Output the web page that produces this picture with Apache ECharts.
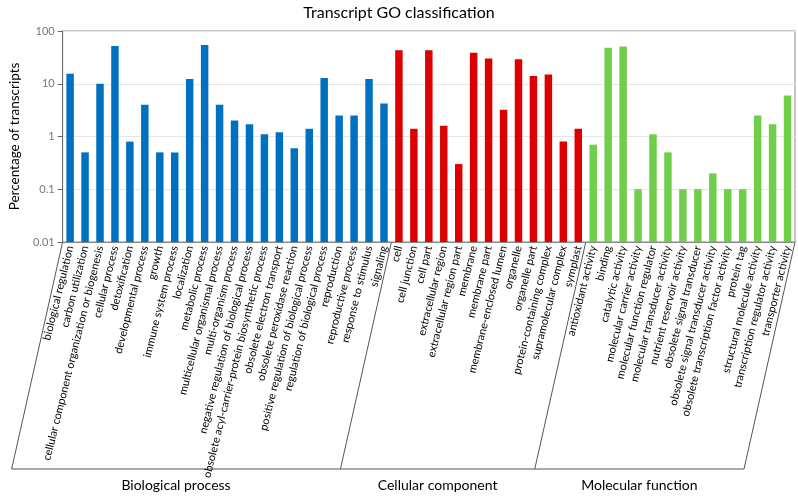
<!DOCTYPE html>
<html>
<head>
<meta charset="utf-8">
<script src="https://cdn.jsdelivr.net/npm/echarts@6/dist/echarts.min.js"></script>
<style>html,body{margin:0;padding:0;background:#fff}#c{width:798px;height:496px}</style>
</head>
<body>
<div id="c"></div>
<script>
const bpCategories = ["biological regulation","carbon utilization","cellular component organization or biogenesis","cellular process","detoxification","developmental process","growth","immune system process","localization","metabolic process","multicellular organismal process","multi-organism process","negative regulation of biological process","obsolete acyl-carrier-protein biosynthetic process","obsolete electron transport","obsolete peroxidase reaction","positive regulation of biological process","regulation of biological process","reproduction","reproductive process","response to stimulus","signaling"];
const bpValues = [15.5,0.5,10,52,0.8,4,0.5,0.5,12.3,54,4,2,1.7,1.1,1.2,0.6,1.4,12.9,2.5,2.5,12.3,4.2];
const ccCategories = ["cell","cell junction","cell part","extracellular region","extracellular region part","membrane","membrane part","membrane-enclosed lumen","organelle","organelle part","protein-containing complex","supramolecular complex","symplast"];
const ccValues = [43,1.4,43,1.6,0.3,38.5,30,3.2,29,14,14.9,0.8,1.4];
const mfCategories = ["antioxidant activity","binding","catalytic activity","molecular carrier activity","molecular function regulator","molecular transducer activity","nutrient reservoir activity","obsolete signal transducer","obsolete signal transducer activity","obsolete transcription factor activity","protein tag","structural molecule activity","transcription regulator activity","transporter activity"];
const mfValues = [0.7,48,51,0.1,1.1,0.5,0.1,0.1,0.2,0.1,0.1,2.5,1.7,6];
const groupNames = ["Biological process","Cellular component","Molecular function"];
const yTickLabels = ["0.01","0.1","1","10","100"];

const categories = bpCategories.concat(ccCategories, mfCategories);
const nB = bpCategories.length, nC = ccCategories.length, nM = mfCategories.length;
function pad(vals, before, after){ return Array(before).fill(null).concat(vals, Array(after).fill(null)); }

const FONT = 'Lato';
const chart = echarts.init(document.getElementById('c'), null, {renderer:'canvas'});
chart.setOption({
  animation:false,
  textStyle:{fontFamily:FONT},
  title:{text:'Transcript GO classification', left:'center', top:0, textStyle:{fontFamily:FONT, fontSize:16, fontWeight:'normal', color:'#000'}},
  grid:{left:54, right:3, top:31, bottom:254, show:true, borderColor:'#888', borderWidth:1},
  xAxis:{type:'category', data:categories,
    axisLine:{lineStyle:{color:'#888'}}, axisTick:{show:false},
    axisLabel:{rotate:76, interval:0, fontSize:11, color:'#000', margin:4, fontFamily:FONT}},
  yAxis:{type:'log', logBase:10, min:0.01, max:100, startValue:0.01,
    name:'Percentage of transcripts', nameLocation:'middle', nameGap:37, nameRotate:90,
    nameTextStyle:{fontSize:13.5, color:'#000', fontFamily:FONT},
    axisLine:{show:true, lineStyle:{color:'#666'}}, axisTick:{show:true, length:5, lineStyle:{color:'#666'}},
    splitLine:{lineStyle:{color:'#e6e6e6'}},
    axisLabel:{color:'#777', fontSize:11, fontFamily:FONT, formatter:function(v){
      const e = Math.round(Math.log10(v)); return yTickLabels[e+2] !== undefined ? yTickLabels[e+2] : String(v);}}},
  series:[
    {type:'bar', data:pad(bpValues,0,nC+nM), itemStyle:{color:'#0070c0'}, barWidth:'50%', barGap:'-100%'},
    {type:'bar', data:pad(ccValues,nB,nM), itemStyle:{color:'#dd0000'}, barWidth:'50%', barGap:'-100%'},
    {type:'bar', data:pad(mfValues,nB+nC,0), itemStyle:{color:'#70cf4a'}, barWidth:'50%', barGap:'-100%'}
  ]
});

// group brackets
const x0 = chart.convertToPixel({xAxisIndex:0}, 0);
const x1 = chart.convertToPixel({xAxisIndex:0}, 1);
const band = x1 - x0;
const yTop = chart.convertToPixel({yAxisIndex:0}, 0.01);
const yBot = 469, dx = -51;
const bounds = [0, nB, nB+nC, nB+nC+nM].map(i => x0 + (i - 0.5) * band);
const elems = [];
bounds.forEach(b => elems.push({type:'line', shape:{x1:b, y1:yTop, x2:b+dx, y2:yBot}, style:{stroke:'#555', lineWidth:1}}));
elems.push({type:'line', shape:{x1:bounds[0]+dx, y1:yBot, x2:bounds[3]+dx, y2:yBot}, style:{stroke:'#555', lineWidth:1}});
groupNames.forEach((g,i) => {
  const cx = (bounds[i] + bounds[i+1]) / 2 + dx;
  elems.push({type:'text', x:cx, y:485, style:{text:g, fill:'#000', fontSize:14, fontFamily:FONT, align:'center', verticalAlign:'middle', textAlign:'center', textVerticalAlign:'middle'}});
});
chart.setOption({graphic:{elements:elems}});
</script>
</body>
</html>
